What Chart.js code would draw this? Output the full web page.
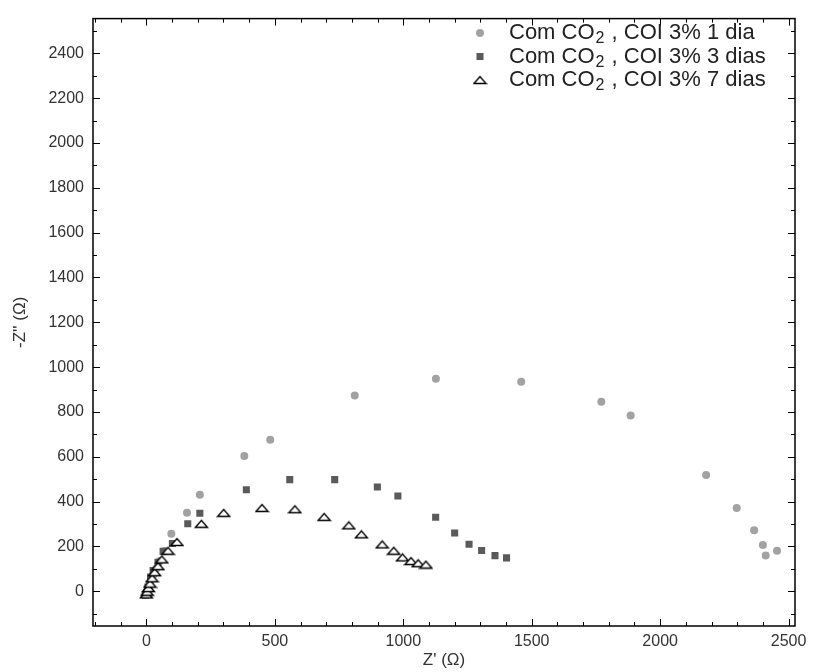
<!DOCTYPE html>
<html>
<head>
<meta charset="utf-8">
<script src="https://cdn.jsdelivr.net/npm/chart.js@4/dist/chart.umd.min.js"></script>
<style>
  html, body { margin: 0; padding: 0; background: #fff; }
  #wrap { width: 814px; height: 672px; }
</style>
</head>
<body>
<div id="wrap"><canvas id="nyquist"></canvas></div>
<script>
// Nyquist data: Z' (real) and -Z'' (imaginary), in ohm
const zre1 = [2, 5, 9, 14, 20, 28, 38, 52, 70, 97, 158, 208, 381, 482, 811, 1127, 1459, 1771, 1885, 2179, 2298, 2366, 2400, 2455, 2411];
const zim1 = [-12, 2, 15, 32, 52, 75, 102, 135, 180, 257, 350, 431, 604, 676, 873, 948, 935, 846, 784, 519, 372, 272, 206, 181, 159];

const zre3 = [-4, 1, 6, 16, 26, 45, 65, 101, 161, 208, 389, 558, 733, 899, 979, 1126, 1200, 1256, 1305, 1357, 1402];
const zim3 = [-18, -6, 19, 63, 93, 129, 178, 213, 301, 348, 453, 498, 498, 465, 425, 330, 260, 210, 182, 159, 149];

const zre7 = [0, 3, 8, 14, 22, 32, 45, 60, 84, 119, 214, 301, 450, 578, 692, 788, 837, 918, 963, 997, 1030, 1058, 1088];
const zim7 = [-14, -2, 14, 34, 58, 85, 112, 142, 181, 220, 301, 350, 372, 366, 332, 294, 254, 209, 181, 151, 135, 125, 119];

const seriesLabels = ['1 dia', '3 dias', '7 dias'];
const xTicks = [0, 500, 1000, 1500, 2000, 2500];
const yTicks = [0, 200, 400, 600, 800, 1000, 1200, 1400, 1600, 1800, 2000, 2200, 2400];

const pts = (xs, ys) => xs.map((v, i) => ({ x: v, y: ys[i] }));

// open triangle marker, a bit flatter than the built-in one
const tri = document.createElement('canvas');
tri.width = 15; tri.height = 10;
(function () {
  const c = tri.getContext('2d');
  c.beginPath();
  c.moveTo(1.5, 8.5);
  c.lineTo(7.5, 1.5);
  c.lineTo(13.5, 8.5);
  c.closePath();
  c.fillStyle = '#fff';
  c.fill();
  c.lineWidth = 1.4;
  c.strokeStyle = '#000';
  c.stroke();
})();

const FONT = "'Liberation Sans', Arial, sans-serif";

// frame with inward major/minor ticks on all four sides
const frame = {
  id: 'frame',
  afterDraw(chart) {
    const { ctx, chartArea: a, scales: { x, y } } = chart;
    ctx.save();
    ctx.strokeStyle = '#000';
    ctx.lineWidth = 1;
    ctx.beginPath();
    for (let v = -200; v <= 2500; v += 100) {
      const px = Math.round(x.getPixelForValue(v)) + 0.5;
      if (px < a.left + 1 || px > a.right - 1) continue;
      const len = v % 500 === 0 ? 7 : 4;
      ctx.moveTo(px, a.bottom); ctx.lineTo(px, a.bottom - len);
      ctx.moveTo(px, a.top); ctx.lineTo(px, a.top + len);
    }
    for (let v = -100; v <= 2500; v += 100) {
      const py = Math.round(y.getPixelForValue(v)) + 0.5;
      if (py < a.top + 1 || py > a.bottom - 1) continue;
      const len = v % 200 === 0 ? 7 : 4;
      ctx.moveTo(a.left, py); ctx.lineTo(a.left + len, py);
      ctx.moveTo(a.right, py); ctx.lineTo(a.right - len, py);
    }
    ctx.stroke();
    ctx.lineWidth = 1.5;
    ctx.strokeRect(a.left, a.top, a.right - a.left, a.bottom - a.top);
    ctx.restore();
  }
};

// legend in the upper right, with the subscript in CO2
const legendBox = {
  id: 'legendBox',
  afterDraw(chart) {
    const ctx = chart.ctx;
    ctx.save();
    chart.data.datasets.forEach((ds, i) => {
      const cy = 33 + i * 23.5;
      ctx.fillStyle = ds.backgroundColor;
      ctx.strokeStyle = ds.borderColor;
      ctx.lineWidth = ds.borderWidth;
      Chart.helpers.drawPoint(ctx, {
        pointStyle: ds.pointStyle, radius: ds.pointRadius, borderWidth: ds.borderWidth, rotation: 0
      }, 480, cy);

      ctx.fillStyle = '#222';
      ctx.textBaseline = 'middle';
      let tx = 509;
      ctx.font = '22px ' + FONT;
      ctx.fillText('Com CO', tx, cy);
      tx += ctx.measureText('Com CO').width;
      ctx.font = '16px ' + FONT;
      ctx.fillText('2', tx + 1, cy + 6);
      tx += ctx.measureText('2').width + 2;
      ctx.font = '22px ' + FONT;
      ctx.fillText(' , COI 3% ' + seriesLabels[i], tx, cy);
    });
    ctx.restore();
  }
};

const datasets = [
  { label: seriesLabels[0], data: pts(zre1, zim1), pointStyle: 'circle', pointRadius: 4,
    backgroundColor: '#a2a2a2', borderColor: '#a2a2a2', borderWidth: 0, order: 3 },
  { label: seriesLabels[1], data: pts(zre3, zim3), pointStyle: 'rect', pointRadius: 5,
    backgroundColor: '#5a5a5a', borderColor: '#5a5a5a', borderWidth: 0, order: 2 },
  { label: seriesLabels[2], data: pts(zre7, zim7), pointStyle: tri, pointRadius: 6,
    backgroundColor: '#fff', borderColor: '#000', borderWidth: 1, order: 1 }
];

new Chart(document.getElementById('nyquist'), {
  type: 'scatter',
  data: { datasets },
  options: {
    responsive: true,
    maintainAspectRatio: false,
    animation: false,
    events: [],
    layout: { padding: { top: 12, right: 19, left: 0, bottom: 0 } },
    plugins: {
      legend: { display: false },
      tooltip: { enabled: false }
    },
    scales: {
      x: {
        type: 'linear',
        min: -208, max: 2525,
        afterBuildTicks: s => { s.ticks = xTicks.map(v => ({ value: v })); },
        afterFit: s => { s.height = 46; },
        grid: { display: false, drawTicks: false },
        border: { display: false },
        ticks: { padding: 6, color: '#333', font: { family: FONT, size: 16 }, callback: v => String(v) },
        title: { display: true, text: "Z' (\u03A9)", color: '#333',
                 font: { family: FONT, size: 17 }, padding: { top: 0, bottom: 1 } }
      },
      y: {
        type: 'linear',
        min: -155, max: 2555,
        afterBuildTicks: s => { s.ticks = yTicks.map(v => ({ value: v })); },
        afterFit: s => { s.width = 93; },
        grid: { display: false, drawTicks: false },
        border: { display: false },
        ticks: { padding: 9, color: '#333', font: { family: FONT, size: 16 }, callback: v => String(v) },
        title: { display: true, text: "-Z'' (\u03A9)", color: '#333',
                 font: { family: FONT, size: 17 }, padding: { top: 10, bottom: 0 } }
      }
    }
  },
  plugins: [frame, legendBox]
});
</script>
</body>
</html>
